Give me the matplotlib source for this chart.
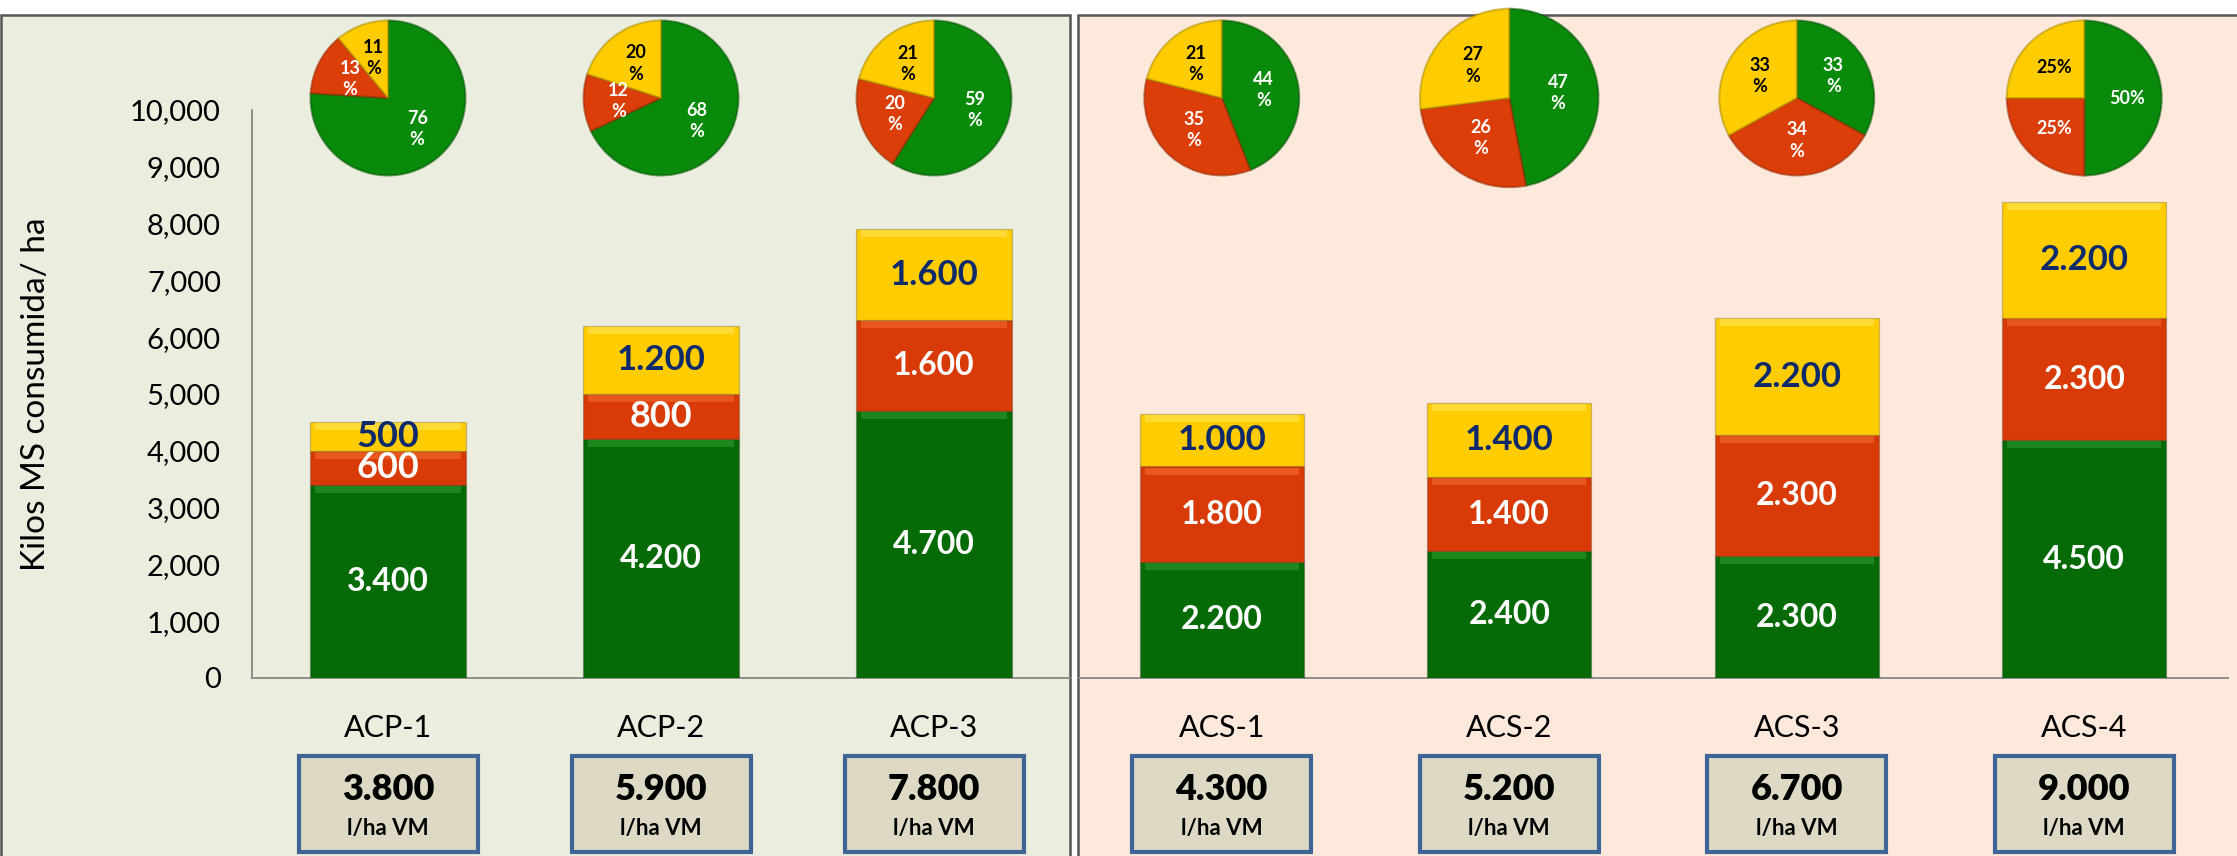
import matplotlib
matplotlib.use("Agg")
import matplotlib.pyplot as plt
from matplotlib.patches import Rectangle
from matplotlib.ticker import FuncFormatter
import numpy as np

plt.rcParams['font.family'] = ['Lato', 'DejaVu Sans']

# ---------------- data ----------------
acp_cats = ["ACP-1", "ACP-2", "ACP-3"]
acp_green = [3400, 4200, 4700]
acp_red = [600, 800, 1600]
acp_yellow = [500, 1200, 1600]
acp_vm = [3800, 5900, 7800]
acp_pie_green = [76, 68, 59]
acp_pie_red = [13, 12, 20]
acp_pie_yellow = [11, 20, 21]

acs_cats = ["ACS-1", "ACS-2", "ACS-3", "ACS-4"]
acs_green = [2200, 2400, 2300, 4500]
acs_red = [1800, 1400, 2300, 2300]
acs_yellow = [1000, 1400, 2200, 2200]
acs_vm = [4300, 5200, 6700, 9000]
acs_pie_green = [44, 47, 33, 50]
acs_pie_red = [35, 26, 34, 25]
acs_pie_yellow = [21, 27, 33, 25]
acs_pie_inline = [False, False, False, True]   # ACS-4 shows "50%" on one line

y_ticks = [0, 1000, 2000, 3000, 4000, 5000, 6000, 7000, 8000, 9000, 10000]
y_label = "Kilos MS consumida/ ha"
vm_unit = "l/ha VM"

# ---------------- style ----------------
W, H = 2237, 856
GREEN, RED, YELLOW = "#066B06", "#D83B07", "#FFCC00"
GREEN_HI, RED_HI, YELLOW_HI = "#2E9A2E", "#F26A30", "#FFE45A"
PIE_GREEN, PIE_RED, PIE_YELLOW = "#0A8A0A", "#DC3E0A", "#FFCC00"
NAVY = "#0E2A6B"
BG_LEFT, BG_RIGHT = "#EBEEDF", "#FCE9DC"
BORDER = "#555555"
SPINE = "#878787"


def fx(px):
    return px / W


def fy(py):
    return 1 - py / H


def fmt_dot(v):
    return f"{v:,}".replace(",", ".")


fig = plt.figure(figsize=(W / 100, H / 100), dpi=100)
fig.patch.set_facecolor("white")

# panel backgrounds
fig.add_artist(Rectangle((fx(1), -0.02), fx(1070) - fx(1), fy(15) + 0.02,
                         transform=fig.transFigure, facecolor=BG_LEFT,
                         edgecolor=BORDER, lw=1.8, zorder=-10))
fig.add_artist(Rectangle((fx(1078), -0.02), fx(2245) - fx(1078), fy(15) + 0.02,
                         transform=fig.transFigure, facecolor=BG_RIGHT,
                         edgecolor=BORDER, lw=1.8, zorder=-10))

ax_top, ax_bot = 110, 678
axL = fig.add_axes([fx(251.5), fy(ax_bot), fx(1070.5) - fx(251.5), (ax_bot - ax_top) / H])
axR = fig.add_axes([fx(1078), fy(ax_bot), fx(2228) - fx(1078), (ax_bot - ax_top) / H])


def draw_panel(ax, cats, g, r, yv, vm, pg, pr, py_, ymax, pie_radii, pie_inline, show_y):
    n = len(cats)
    x = np.arange(n)
    g = np.array(g); r = np.array(r); yv = np.array(yv)
    ax.set_xlim(-0.5, n - 0.5)
    ax.set_ylim(0, ymax)
    ax.patch.set_alpha(0)
    bw = 0.57
    band = 7 * ymax / (ax_bot - ax_top)
    for vals, bottoms, col, hi in [(g, np.zeros(n), GREEN, GREEN_HI),
                                   (r, g, RED, RED_HI),
                                   (yv, g + r, YELLOW, YELLOW_HI)]:
        ax.bar(x, vals, bottom=bottoms, width=bw, color=col, edgecolor="#00000030",
               lw=1.0, zorder=3)
        ax.bar(x, np.full(n, band), bottom=bottoms + vals - band * 1.15, width=bw * 0.94,
               color=hi, lw=0, zorder=4, alpha=0.6)
    # segment labels
    for i in range(n):
        for val, bot, col, is_y in [(g[i], 0, "white", False),
                                    (r[i], g[i], "white", False),
                                    (yv[i], g[i] + r[i], NAVY, True)]:
            s = fmt_dot(int(val))
            size = 26 if len(s) <= 3 else (25 if is_y else 23)
            ax.text(i, bot + val / 2, s, ha="center", va="center", color=col,
                    fontsize=size, fontweight="bold", zorder=6)
    # spines / ticks
    for sp in ["top", "right"]:
        ax.spines[sp].set_visible(False)
    ax.spines["bottom"].set_color(SPINE)
    ax.spines["bottom"].set_linewidth(1.3)
    ax.set_xticks([])
    if show_y:
        ax.spines["left"].set_color(SPINE)
        ax.spines["left"].set_linewidth(1.3)
        ax.set_yticks(y_ticks)
        ax.yaxis.set_major_formatter(FuncFormatter(lambda v, p: f"{int(v):,}"))
        ax.tick_params(axis="y", length=0, pad=22, labelsize=21)
    else:
        ax.spines["left"].set_visible(False)
        ax.set_yticks([])
    # category labels, boxes and pies in figure coords
    inv = fig.transFigure.inverted()
    box_w, box_top, box_bot = 179, 756, 852
    for i in range(n):
        cx = inv.transform(ax.transData.transform((i, 0)))[0]
        fig.text(cx, fy(728), cats[i], ha="center", va="center", fontsize=22)
        fig.add_artist(Rectangle((cx - fx(box_w) / 2, fy(box_bot)), fx(box_w),
                                 fy(box_top) - fy(box_bot), transform=fig.transFigure,
                                 facecolor="#DDD9C4", edgecolor="#3F6496", lw=3, zorder=5))
        fig.text(cx, fy(789), fmt_dot(vm[i]), ha="center", va="center", fontsize=26,
                 fontweight="heavy", zorder=6)
        fig.text(cx, fy(829), vm_unit, ha="center", va="center", fontsize=16,
                 fontweight="bold", zorder=6)
        rad = pie_radii[i]
        cy = fy(98)
        pax = fig.add_axes([cx - rad / W, cy - rad / H, 2 * rad / W, 2 * rad / H], zorder=2)
        vals = [pg[i], pr[i], py_[i]]
        wedges, _ = pax.pie(vals, colors=[PIE_GREEN, PIE_RED, PIE_YELLOW], startangle=90,
                            counterclock=False, radius=1.0,
                            wedgeprops=dict(linewidth=1.5))
        for w_, ec in zip(wedges, ["#05550590", "#9A2A0590", "#B0900090"]):
            w_.set_edgecolor(ec)
        pax.set_xlim(-1.02, 1.02)
        pax.set_ylim(-1.02, 1.02)
        pax.axis("off")
        for w_, v, tc in zip(wedges, vals, ["white", "white", "black"]):
            mid = np.deg2rad((w_.theta1 + w_.theta2) / 2)
            rr = 0.55
            lab = f"{v}%" if pie_inline[i] else f"{v}\n%"
            pax.text(rr * np.cos(mid), rr * np.sin(mid), lab, ha="center", va="center",
                     color=tc, fontsize=13, fontweight="bold", linespacing=1.3)


draw_panel(axL, acp_cats, acp_green, acp_red, acp_yellow, acp_vm,
           acp_pie_green, acp_pie_red, acp_pie_yellow, 10000,
           [79, 79, 79], [False, False, False], True)
draw_panel(axR, acs_cats, acs_green, acs_red, acs_yellow, acs_vm,
           acs_pie_green, acs_pie_red, acs_pie_yellow, 10740,
           [79, 91, 79, 79], acs_pie_inline, False)

fig.text(fx(36), (fy(ax_top) + fy(ax_bot)) / 2, y_label, rotation=90, ha="center",
         va="center", fontsize=24)

fig.savefig("out.png", dpi=100)
